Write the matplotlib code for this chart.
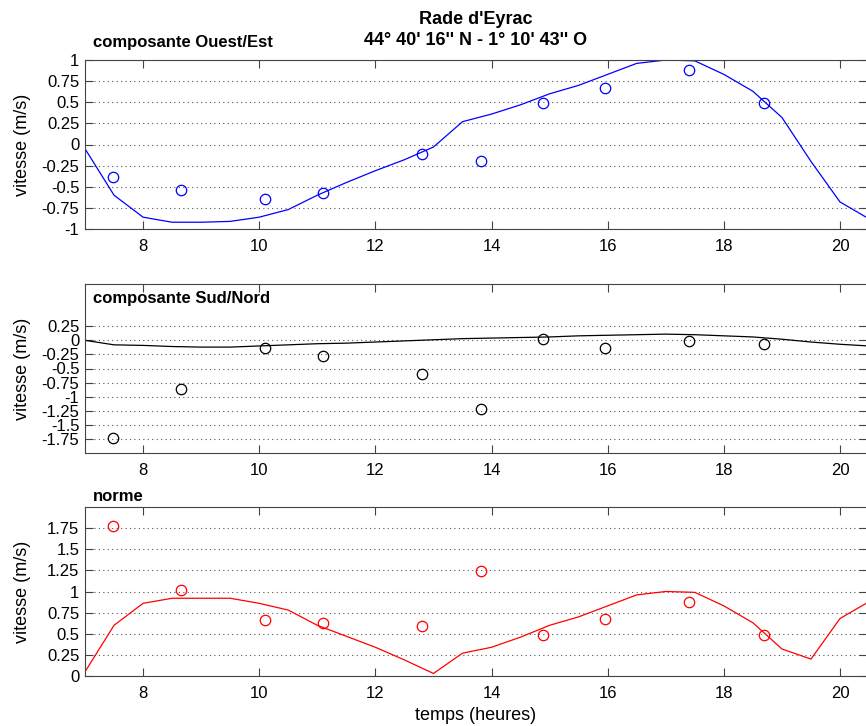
import matplotlib
matplotlib.use("Agg")
import matplotlib.pyplot as plt
from matplotlib.ticker import FuncFormatter

plt.rcParams['font.family'] = ['Liberation Sans', 'DejaVu Sans']
plt.rcParams['axes.unicode_minus'] = False

# model hours (every half hour)
hours = [7, 7.5, 8, 8.5, 9, 9.5, 10, 10.5, 11, 11.5, 12, 12.5, 13, 13.5,
         14, 14.5, 15, 15.5, 16, 16.5, 17, 17.5, 18, 18.5, 19, 19.5, 20, 20.5]
we_model = [-0.05, -0.6, -0.86, -0.92, -0.92, -0.91, -0.86, -0.77, -0.6, -0.45,
            -0.31, -0.18, -0.03, 0.27, 0.36, 0.47, 0.6, 0.7, 0.83, 0.96,
            1.0, 0.99, 0.83, 0.63, 0.32, -0.2, -0.68, -0.88]
sn_model = [0.0, -0.08, -0.09, -0.11, -0.12, -0.12, -0.1, -0.08, -0.06, -0.05,
            -0.03, -0.01, 0.01, 0.03, 0.04, 0.05, 0.06, 0.08, 0.09, 0.1,
            0.11, 0.1, 0.08, 0.06, 0.02, -0.03, -0.07, -0.1]
norm_model = [0.05, 0.6, 0.86, 0.92, 0.92, 0.92, 0.86, 0.78, 0.6, 0.47,
              0.34, 0.19, 0.03, 0.27, 0.34, 0.46, 0.6, 0.7, 0.83, 0.96,
              1.0, 0.99, 0.83, 0.63, 0.32, 0.2, 0.68, 0.88]

# measurements
meas_hours = [7.48, 8.65, 10.1, 11.1, 12.8, 13.82, 14.88, 15.95, 17.4, 18.7]
we_meas = [-0.38, -0.54, -0.65, -0.57, -0.11, -0.19, 0.49, 0.67, 0.88, 0.49]
sn_meas = [-1.74, -0.86, -0.14, -0.28, -0.59, -1.22, 0.02, -0.14, -0.01, -0.06]
norm_meas = [1.78, 1.02, 0.66, 0.63, 0.59, 1.24, 0.48, 0.68, 0.88, 0.48]

x_ticks = [8, 10, 12, 14, 16, 18, 20]
we_ticks = [-1, -0.75, -0.5, -0.25, 0, 0.25, 0.5, 0.75, 1]
sn_ticks = [-1.75, -1.5, -1.25, -1, -0.75, -0.5, -0.25, 0, 0.25]
norm_ticks = [0, 0.25, 0.5, 0.75, 1, 1.25, 1.5, 1.75]

W, H = 866, 726
LEFT, RIGHT = 85, 867


def px_axes(top, bottom):
    return [LEFT / W, (H - bottom) / H, (RIGHT - LEFT) / W, (bottom - top) / H]


def style_axes(ax, yticks, ylim):
    ax.set_xlim(7, 20.465)
    ax.set_ylim(*ylim)
    ax.set_xticks(x_ticks)
    ax.set_yticks(yticks)
    ax.yaxis.set_major_formatter(FuncFormatter(lambda v, p: '%g' % v))
    ax.tick_params(direction='in', length=5.5, width=0.8, color='#444444',
                   top=True, right=True, labelsize=12)
    ax.tick_params(axis='x', pad=7)
    ax.tick_params(axis='y', pad=4)
    ax.grid(axis='y', linestyle=(0, (1, 3)), color='#555555', linewidth=0.8)
    ax.set_axisbelow(True)
    for s in ax.spines.values():
        s.set_color('#444444')
        s.set_linewidth(0.8)


def fig_text(x, y, s, **kw):
    fig.text(x / W, 1 - y / H, s, **kw)


fig = plt.figure(figsize=(W / 100, H / 100), dpi=100)

ax1 = fig.add_axes(px_axes(60, 229))
ax1.plot(hours, we_model, color='blue', lw=0.9)
ax1.plot(meas_hours, we_meas, 'o', mfc='none', mec='blue', ms=7.5, mew=0.9)
style_axes(ax1, we_ticks, (-1, 1))

ax2 = fig.add_axes(px_axes(284, 453))
ax2.plot(hours, sn_model, color='black', lw=0.9)
ax2.plot(meas_hours, sn_meas, 'o', mfc='none', mec='black', ms=7.5, mew=0.9)
style_axes(ax2, sn_ticks, (-2, 1))

ax3 = fig.add_axes(px_axes(507, 676))
ax3.plot(hours, norm_model, color='red', lw=0.9)
ax3.plot(meas_hours, norm_meas, 'o', mfc='none', mec='red', ms=7.5, mew=0.9)
style_axes(ax3, norm_ticks, (0, 2))

for top, bottom in [(60, 229), (284, 453), (507, 676)]:
    fig_text(23, (top + bottom) / 2, 'vitesse (m/s)', rotation=90,
             ha='center', va='center', fontsize=13)

fig_text(476, 24, "Rade d'Eyrac", ha='center', va='baseline',
         fontsize=13, fontweight='bold')
fig_text(476, 45, "44° 40' 16'' N - 1° 10' 43'' O", ha='center',
         va='baseline', fontsize=13, fontweight='bold')
fig_text(93, 47, 'composante Ouest/Est', ha='left', va='baseline',
         fontsize=12, fontweight='bold')
fig_text(93, 303, 'composante Sud/Nord', ha='left', va='baseline',
         fontsize=12, fontweight='bold')
fig_text(93, 501, 'norme', ha='left', va='baseline',
         fontsize=12, fontweight='bold')
fig_text(476, 716, 'temps (heures)', ha='center', va='center', fontsize=13)

fig.savefig('out.png', dpi=100)
